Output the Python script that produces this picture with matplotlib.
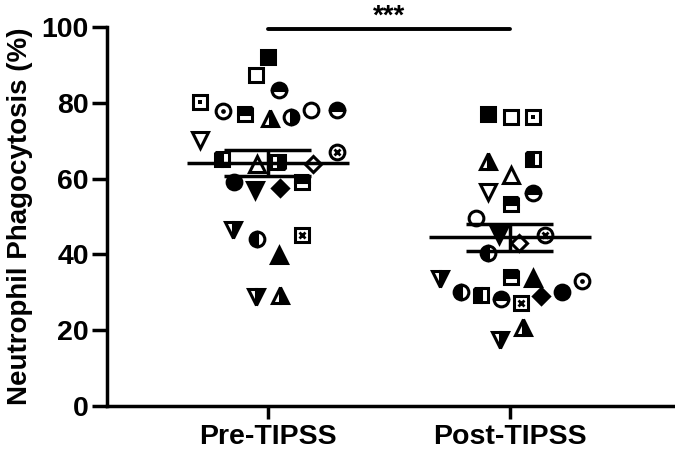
import numpy as np
import matplotlib
matplotlib.use("Agg")
import matplotlib.pyplot as plt

plt.rcParams['font.family'] = ['Liberation Sans', 'DejaVu Sans']
plt.rcParams['font.weight'] = 'bold'

# ---------------- data ----------------
categories = ["Pre-TIPSS", "Post-TIPSS"]

pre_values = [92.1, 87.3, 83.4, 80.2, 77.8, 77.0, 76.0, 76.3, 78.1, 78.1,
              70.2, 67.0, 65.2, 63.9, 64.4, 63.9, 59.1, 57.0, 57.5, 59.1,
              46.4, 44.1, 45.1, 39.8, 28.8, 29.3]
post_values = [77.0, 76.3, 76.3, 64.6, 65.2, 60.9, 56.5, 56.2, 53.3, 49.6,
               45.1, 43.0, 45.1, 40.4, 33.5, 34.0, 33.8, 33.0, 30.1, 29.3,
               28.2, 27.2, 29.0, 30.1, 20.8, 17.4]

# horizontal jitter (in category units)
pre_jitter = [0.00, -0.05, 0.045, -0.28, -0.186, -0.095, 0.01, 0.095, 0.18, 0.285,
              -0.28, 0.285, -0.19, -0.045, 0.04, 0.185, -0.14, -0.055, 0.05, 0.14,
              -0.145, -0.045, 0.14, 0.045, -0.05, 0.05]
post_jitter = [-0.09, 0.004, 0.095, -0.09, 0.095, 0.004, -0.09, 0.095, 0.004, -0.14,
               -0.045, 0.037, 0.145, -0.09, -0.29, 0.004, 0.095, 0.30, -0.20, -0.12,
               -0.037, 0.045, 0.13, 0.215, 0.054, -0.04]

# marker symbol per subject
pre_symbols = ["sq_f", "sq_o", "ci_top", "sq_dot", "ci_dot", "sq_top", "tu_right", "ci_right", "ci_o", "ci_top",
               "td_o", "ci_x", "sq_left", "tu_o", "sq_right", "di_o", "ci_f", "td_f", "di_f", "sq_top",
               "td_right", "ci_left", "sq_x", "tu_f", "td_right", "tu_right"]
post_symbols = ["sq_f", "sq_o", "sq_dot", "tu_right", "sq_left", "tu_o", "td_o", "ci_top", "sq_top", "ci_o",
                "td_f", "di_o", "ci_x", "ci_left", "td_right", "sq_top", "tu_f", "ci_dot", "ci_left", "sq_left",
                "ci_top", "sq_x", "di_f", "ci_f", "tu_right", "td_right"]

sig_text = "***"
y_label = "Neutrophil Phagocytosis (%)"
y_ticks = [0, 20, 40, 60, 80, 100]

# ---------------- style ----------------
MS = 10.6
MEW = 2.2
K = 'black'
W = 'white'


def layers(code):
    shape, kind = code.split("_")
    mk = {"sq": "s", "ci": "o", "tu": "^", "td": "v", "di": "D"}[shape]
    ms = MS * (0.78 if shape == "di" else (1.05 if shape in ("tu", "td") else 1.0))
    base = dict(marker=mk, markersize=ms, markeredgewidth=MEW, markeredgecolor=K)
    out = []
    if kind == "f":
        out.append(dict(base, markerfacecolor=K))
    elif kind == "o":
        out.append(dict(base, markerfacecolor=W))
    elif kind in ("top", "bottom", "left", "right"):
        out.append(dict(base, markerfacecolor=K, fillstyle=kind, markerfacecoloralt=W))
    elif kind == "dot":
        out.append(dict(base, markerfacecolor=W))
        out.append(dict(marker=mk, markersize=3.4, markeredgewidth=0, markerfacecolor=K))
    elif kind == "x":
        out.append(dict(base, markerfacecolor=W))
        out.append(dict(marker="x", markersize=5.0, markeredgewidth=2.0, markeredgecolor=K))
    return out


fig = plt.figure(figsize=(6.75, 4.51), dpi=100)
ax = fig.add_axes([0.1585, 0.0998, 0.8385, 0.8404])

for ci, (vals, jit, syms) in enumerate([(pre_values, pre_jitter, pre_symbols),
                                         (post_values, post_jitter, post_symbols)]):
    for v, j, s in zip(vals, jit, syms):
        for kw in layers(s):
            ax.plot([ci + j], [v], linestyle='none', zorder=3, **kw)
    arr = np.asarray(vals)
    mean = arr.mean()
    sem = arr.std(ddof=1) / np.sqrt(len(arr))
    ax.hlines(mean, ci - 0.335, ci + 0.335, color=K, lw=2.5, zorder=4)
    ax.hlines([mean - sem, mean + sem], ci - 0.18, ci + 0.18, color=K, lw=2.5, zorder=4)
    ax.vlines(ci, mean - sem, mean + sem, color=K, lw=2.5, zorder=4)

# significance bar
ax.plot([0, 1], [99.5, 99.5], color=K, lw=2.8, solid_capstyle='round', clip_on=False, zorder=4)
ax.text(0.5, 100.9, sig_text, ha='center', va='baseline', fontsize=20, fontweight='bold', clip_on=False)

ax.set_xlim(-0.665, 1.675)
ax.set_ylim(0, 100)
ax.set_xticks([0, 1])
ax.set_xticklabels(categories, fontsize=20.5, fontweight='bold')
ax.set_yticks(y_ticks)
ax.set_yticklabels([str(t) for t in y_ticks], fontsize=20.5, fontweight='bold')
ax.set_ylabel(y_label, fontsize=20, fontweight='bold', labelpad=6)

for side in ("top", "right"):
    ax.spines[side].set_visible(False)
for side in ("left", "bottom"):
    ax.spines[side].set_linewidth(2.5)
ax.tick_params(axis='y', length=11, width=2.5, pad=2)
ax.tick_params(axis='x', length=9, width=2.5, pad=4)

fig.savefig("out.png", dpi=100)
